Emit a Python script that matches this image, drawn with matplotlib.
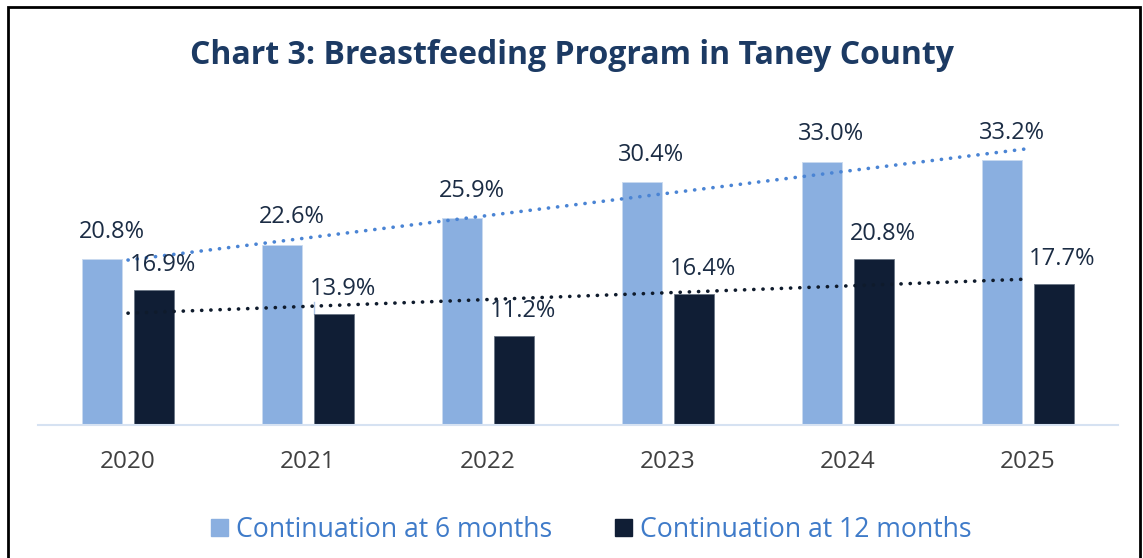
import matplotlib.pyplot as plt
import numpy as np
from matplotlib.patches import Rectangle, Patch

years = ["2020", "2021", "2022", "2023", "2024", "2025"]
six_months = [20.8, 22.6, 25.9, 30.4, 33.0, 33.2]
twelve_months = [16.9, 13.9, 11.2, 16.4, 20.8, 17.7]

light = "#8AAFE0"
dark = "#101E35"
light_trend = "#4A84D4"
dark_trend = "#0F1B2C"

plt.rcParams['font.family'] = ['Open Sans', 'DejaVu Sans']

fig = plt.figure(figsize=(11.43, 5.58), dpi=100)
ax = fig.add_axes([38 / 1143, 133 / 558, 1080 / 1143, 319.2 / 558])

x = np.arange(len(years))
w = 0.222
off = 0.142
ax.bar(x - off, six_months, w, color=light, edgecolor="#C9DAF0", linewidth=0.6, zorder=2)
ax.bar(x + off, twelve_months, w, color=dark, edgecolor="#6A7585", linewidth=0.6, zorder=2)

# linear trendlines through category centres
for vals, c in [(six_months, light_trend), (twelve_months, dark_trend)]:
    k, b = np.polyfit(x, vals, 1)
    ax.plot(x, k * x + b, linestyle=(0, (0.05, 2.5)), color=c, linewidth=2.6,
            dash_capstyle="round", zorder=3)

for i in range(len(years)):
    ax.text(x[i] - off + 0.05, six_months[i] + 1.9, f"{six_months[i]:.1f}%",
            ha="center", va="bottom", fontsize=17, color="#1B2C44", zorder=4)
    ax.text(x[i] + off + 0.05, twelve_months[i] + 1.6, f"{twelve_months[i]:.1f}%",
            ha="center", va="bottom", fontsize=17, color="#1B2C44", zorder=4)

# small leader line on 2021 label
ax.plot([x[1] + off - 0.11, x[1] + off - 0.11], [twelve_months[1], twelve_months[1] + 1.5],
        color="#AFC6E6", linewidth=1, zorder=1)

ax.set_xlim(-0.5, len(years) - 0.5)
ax.set_ylim(0, 40)
ax.set_xticks(x)
ax.set_xticklabels(years, fontsize=17.5, color="#404040")
ax.tick_params(axis="x", length=0, pad=18)
ax.set_yticks([])
for s in ["top", "right", "left"]:
    ax.spines[s].set_visible(False)
ax.spines["bottom"].set_color("#D6E2F2")
ax.spines["bottom"].set_linewidth(1.5)

fig.text(0.5, 1 - 55 / 558, "Chart 3: Breastfeeding Program in Taney County",
         ha="center", va="center", fontsize=23, fontweight="bold", color="#1C3A63")

handles = [Patch(color=light, label="Continuation at 6 months"),
           Patch(color=dark, label="Continuation at 12 months")]
fig.legend(handles=handles, loc="center", bbox_to_anchor=(0.5175, 1 - 530 / 558),
           ncol=2, frameon=False, fontsize=19.2, labelcolor="#3F7BC9",
           handlelength=0.64, handleheight=0.64, handletextpad=0.3, columnspacing=2.36)

fig.patches.append(Rectangle((8 / 1143, -0.05), 1132 / 1143, 1.05 - 7 / 558,
                             transform=fig.transFigure, fill=False,
                             edgecolor="black", linewidth=2))

fig.savefig("out.png", dpi=100)
